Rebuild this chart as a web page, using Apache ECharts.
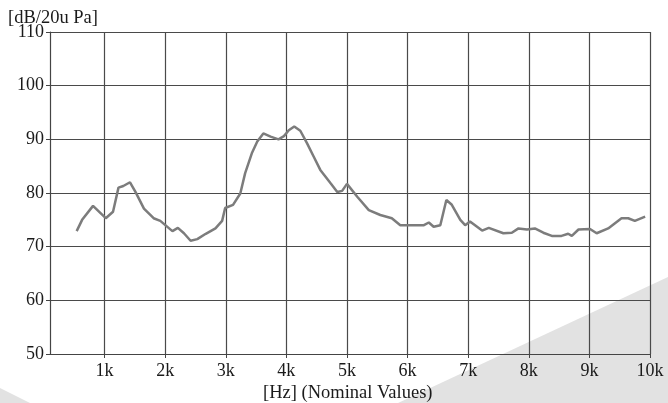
<!DOCTYPE html>
<html>
<head>
<meta charset="utf-8">
<script src="https://cdn.jsdelivr.net/npm/echarts@6/dist/echarts.min.js"></script>
<style>
html,body{margin:0;padding:0;background:#fff;}
#chart{width:668px;height:403px;}
</style>
</head>
<body>
<div id="chart"></div>
<script>
// Frequency (Hz) and level (dB re 20 uPa)
var freqHz = [540, 630, 810, 1020, 1140, 1230, 1310, 1420, 1510, 1650, 1810, 1920, 2120, 2210, 2310, 2420, 2530, 2670, 2830, 2940, 2990, 3120, 3240, 3320, 3430, 3520, 3620, 3740, 3870, 3960, 4040, 4130, 4230, 4340, 4450, 4560, 4730, 4840, 4920, 5000, 5170, 5360, 5550, 5740, 5880, 6270, 6350, 6430, 6540, 6640, 6730, 6870, 6950, 7030, 7230, 7340, 7580, 7720, 7830, 7970, 8100, 8240, 8380, 8540, 8650, 8710, 8820, 9010, 9120, 9310, 9530, 9640, 9750, 9920];
var levelDb = [72.9, 75.0, 77.6, 75.3, 76.5, 81.0, 81.3, 82.0, 80.2, 77.1, 75.3, 74.8, 72.9, 73.5, 72.5, 71.1, 71.4, 72.4, 73.4, 74.8, 77.2, 77.8, 79.9, 83.7, 87.4, 89.6, 91.1, 90.5, 90.0, 90.6, 91.7, 92.4, 91.6, 89.3, 86.8, 84.3, 81.8, 80.2, 80.4, 81.7, 79.3, 76.8, 75.9, 75.3, 74.0, 74.0, 74.5, 73.7, 74.0, 78.7, 77.8, 75.0, 74.0, 74.7, 73.0, 73.5, 72.5, 72.6, 73.4, 73.2, 73.4, 72.6, 72.0, 72.0, 72.4, 72.0, 73.2, 73.3, 72.5, 73.4, 75.3, 75.3, 74.8, 75.6];
var xTicks = [1000, 2000, 3000, 4000, 5000, 6000, 7000, 8000, 9000, 10000];
var yAxisTitle = '[dB/20u Pa]';
var xAxisTitle = '[Hz] (Nominal Values)';

var seriesData = freqHz.map(function (f, i) { return [f, levelDb[i]]; });
var font = '"Liberation Serif", "DejaVu Serif", serif';

var chart = echarts.init(document.getElementById('chart'), null, {renderer: 'canvas'});
chart.setOption({
  animation: false,
  backgroundColor: '#ffffff',
  grid: {left: 50, right: 18, top: 32, bottom: 49, containLabel: false},
  graphic: [
    {type: 'polygon', z: -10, silent: true, shape: {points: [[398, 403], [668, 277], [668, 403]]}, style: {fill: '#e2e2e2'}},
    {type: 'polygon', z: -10, silent: true, shape: {points: [[0, 388], [30, 403], [0, 403]]}, style: {fill: '#e2e2e2'}},
    {type: 'text', left: 8, top: 9, style: {text: yAxisTitle, font: '18.5px ' + font, fill: '#1a1a1a'}},
    {type: 'text', left: 263, top: 384, style: {text: xAxisTitle, font: '18.5px ' + font, fill: '#1a1a1a'}}
  ],
  xAxis: {
    type: 'value', min: 100, max: 10000,
    axisLine: {show: true, lineStyle: {color: '#444', width: 1.2}},
    axisTick: {show: true, length: 4, inside: false, customValues: xTicks, lineStyle: {color: '#444'}},
    axisLabel: {customValues: xTicks, margin: 8, color: '#1a1a1a', fontSize: 18, fontFamily: font,
      formatter: function (v) { return (v / 1000) + 'k'; }},
    splitLine: {show: true, lineStyle: {color: '#4a4a4a', width: 1.2}}
  },
  yAxis: {
    type: 'value', min: 50, max: 110, interval: 10,
    axisLine: {show: true, lineStyle: {color: '#444', width: 1.2}},
    axisTick: {show: true, length: 4, inside: false, lineStyle: {color: '#444'}},
    axisLabel: {margin: 6, color: '#1a1a1a', fontSize: 18, fontFamily: font},
    splitLine: {show: true, lineStyle: {color: '#4a4a4a', width: 1.2}}
  },
  series: [{
    type: 'line', data: seriesData, showSymbol: false, smooth: false,
    lineStyle: {color: '#7c7c7c', width: 2.5}
  }]
});
</script>
</body>
</html>
